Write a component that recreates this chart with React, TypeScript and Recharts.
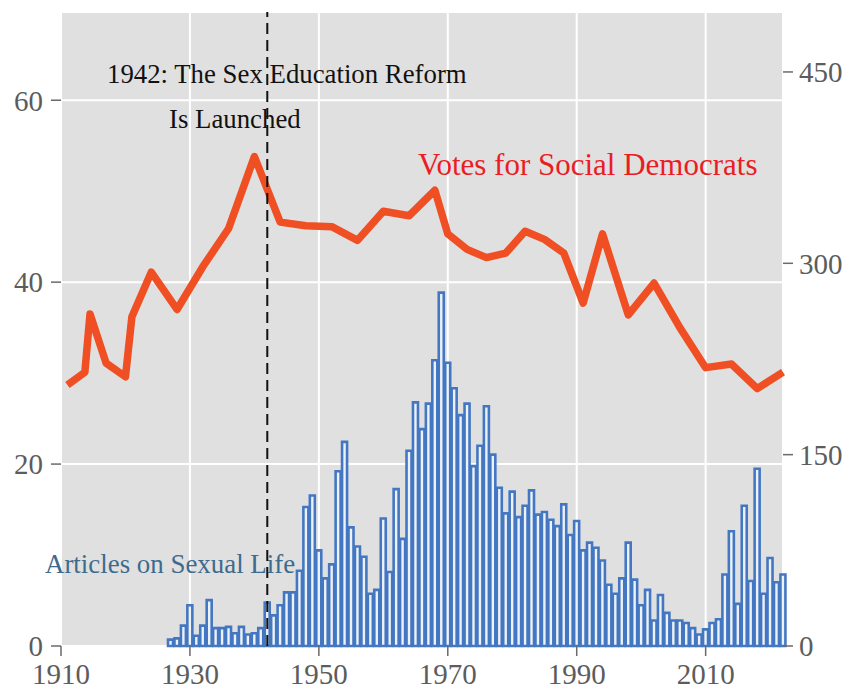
import React from "react";
import {
  ComposedChart,
  Bar,
  Line,
  XAxis,
  YAxis,
  CartesianGrid,
  ReferenceLine,
  Customized,
} from "recharts";

// articles on sexual life, per year (right axis)
const articleYears = [
  1927, 1928, 1929, 1930, 1931, 1932, 1933, 1934, 1935, 1936, 1937, 1938, 1939,
  1940, 1941, 1942, 1943, 1944, 1945, 1946, 1947, 1948, 1949,
  1950, 1951, 1952, 1953, 1954, 1955, 1956, 1957, 1958, 1959,
  1960, 1961, 1962, 1963, 1964, 1965, 1966, 1967, 1968, 1969,
  1970, 1971, 1972, 1973, 1974, 1975, 1976, 1977, 1978, 1979,
  1980, 1981, 1982, 1983, 1984, 1985, 1986, 1987, 1988, 1989,
  1990, 1991, 1992, 1993, 1994, 1995, 1996, 1997, 1998, 1999,
  2000, 2001, 2002, 2003, 2004, 2005, 2006, 2007, 2008, 2009,
  2010, 2011, 2012, 2013, 2014, 2015, 2016, 2017, 2018, 2019,
  2020, 2021, 2022,
];
const articleCounts = [
  5, 6, 16, 32, 8, 16, 36, 14, 14, 15, 10, 15, 9,
  10, 14, 34, 24, 32, 42, 42, 59, 109, 118,
  75, 53, 64, 137, 160, 93, 78, 70, 41, 44,
  100, 58, 123, 84, 153, 191, 170, 190, 224, 277,
  222, 202, 181, 190, 141, 157, 188, 150, 124, 104,
  121, 101, 110, 122, 103, 105, 99, 94, 111, 87,
  98, 75, 81, 77, 67, 48, 41, 53, 81, 52,
  32, 44, 20, 40, 26, 20, 20, 18, 14, 9,
  13, 18, 21, 56, 90, 33, 110, 51, 139, 41,
  69, 50, 56,
];

// social democrat vote share, election years (left axis)
const voteYears = [
  1911, 1913.7, 1914.5, 1917, 1920, 1921, 1924, 1928, 1932, 1936, 1940, 1944,
  1948, 1952, 1956, 1958, 1960, 1964, 1968, 1970, 1973, 1976, 1979, 1982,
  1985, 1988, 1991, 1994, 1998, 2002, 2006, 2010, 2014, 2018, 2022,
];
const voteShares = [
  28.7, 30.1, 36.5, 31.1, 29.6, 36.2, 41.1, 37.0, 41.7, 45.9, 53.8, 46.6,
  46.2, 46.1, 44.6, 46.2, 47.8, 47.3, 50.1, 45.3, 43.6, 42.7, 43.2, 45.6,
  44.7, 43.2, 37.7, 45.3, 36.4, 39.9, 35.0, 30.6, 31.0, 28.3, 30.1,
];

const xTicks = [1910, 1930, 1950, 1970, 1990, 2010];
const leftTicks = [0, 20, 40, 60];
const rightTicks = [0, 150, 300, 450];

const articleData = articleYears.map((year, i) => ({
  year,
  articles: articleCounts[i],
}));
const voteData = voteYears.map((year, i) => ({ year, votes: voteShares[i] }));

const FONT = "'Liberation Serif', 'Times New Roman', serif";
const tickStyle = { fontFamily: FONT, fontSize: 29, fill: "#5c5c5c" };
const tickLineStyle = { stroke: "#6a6a6a", strokeWidth: 1.5 };

const Annotations = () => (
  <g fontFamily={FONT}>
    <text x={107} y={83} fontSize={26.8} fill="#111">
      1942: The Sex Education Reform
    </text>
    <text x={169} y={128} fontSize={26.8} fill="#111">
      Is Launched
    </text>
    <text x={418} y={175} fontSize={31} fill="#ec1c24">
      Votes for Social Democrats
    </text>
    <text x={45} y={573} fontSize={26.9} fill="#3d6b8e">
      Articles on Sexual Life
    </text>
  </g>
);

export default function App() {
  return (
    <div style={{ position: "absolute", left: 0, top: 0, background: "#fff" }}>
      <ComposedChart
        width={852}
        height={691}
        data={articleData}
        margin={{ top: 12, right: 0, bottom: 0, left: 0 }}
      >
        <CartesianGrid
          yAxisId="left"
          fill="#e0e0e0"
          stroke="#ffffff"
          strokeWidth={2}
        />
        <XAxis
          dataKey="year"
          type="number"
          domain={[1910, 2022]}
          ticks={xTicks}
          height={45}
          tickSize={10}
          tickMargin={7}
          axisLine={false}
          tickLine={tickLineStyle}
          tick={tickStyle}
          interval={0}
        />
        <YAxis
          yAxisId="left"
          domain={[0, 69.7]}
          ticks={leftTicks}
          width={61}
          tickSize={10}
          tickMargin={8}
          axisLine={false}
          tickLine={tickLineStyle}
          tick={tickStyle}
          interval={0}
        />
        <YAxis
          yAxisId="right"
          orientation="right"
          domain={[0, 497]}
          ticks={rightTicks}
          width={69}
          tickSize={10}
          tickMargin={6}
          axisLine={false}
          tickLine={tickLineStyle}
          tick={tickStyle}
          interval={0}
        />
        <Bar
          yAxisId="right"
          dataKey="articles"
          barSize={5}
          fill="#edf2f9"
          stroke="#4477c2"
          strokeWidth={2.6}
          isAnimationActive={false}
        />
        <Line
          yAxisId="left"
          data={voteData}
          dataKey="votes"
          type="linear"
          stroke="#f04e23"
          strokeWidth={7.5}
          strokeLinejoin="round"
          dot={false}
          activeDot={false}
          isAnimationActive={false}
        />
        <ReferenceLine
          yAxisId="left"
          x={1942}
          stroke="#111"
          strokeWidth={2}
          strokeDasharray="11 6"
        />
        <Customized component={<Annotations />} />
      </ComposedChart>
    </div>
  );
}
